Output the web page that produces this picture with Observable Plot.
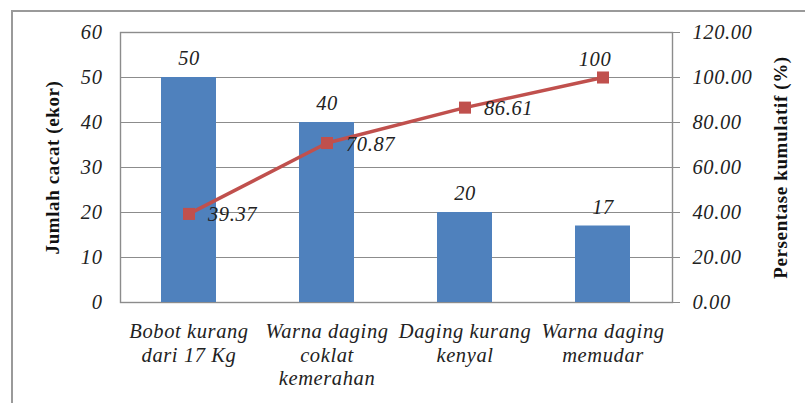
<!DOCTYPE html>
<html>
<head>
<meta charset="utf-8">
<script src="https://cdn.jsdelivr.net/npm/d3@7"></script>
<script src="https://cdn.jsdelivr.net/npm/@observablehq/plot@0.6"></script>
<style>
  html, body { margin: 0; padding: 0; background: #fff; }
  #wrap { position: relative; width: 805px; height: 403px; overflow: hidden; }
  #edge { position: absolute; left: 11px; top: 10px; width: 820px; height: 420px;
          border-left: 2px solid #9a9a9a; border-top: 2px solid #9a9a9a; }
  #chart { position: absolute; left: 0; top: 0; }
</style>
</head>
<body>
<div id="wrap"><div id="edge"></div><div id="chart"></div></div>
<script>
// Defect categories (x), defect counts (left axis) and cumulative percentage (right axis)
const categories = [
  "Bobot kurang\ndari 17 Kg",
  "Warna daging\ncoklat\nkemerahan",
  "Daging kurang\nkenyal",
  "Warna daging\nmemudar"
];
const counts = [50, 40, 20, 17];
const cumulative = [39.37, 70.87, 86.61, 100];
const cumulativeLabels = ["39.37", "70.87", "86.61", "100"];
const leftTicks = [0, 10, 20, 30, 40, 50, 60];
const rightTicks = [0, 20, 40, 60, 80, 100, 120];
const leftTitle = "Jumlah cacat (ekor)";
const rightTitle = "Persentase kumulatif (%)";

// right axis is twice the left axis (0–120 vs 0–60)
const ratio = 120 / 60;

const rows = categories.map((c, i) => ({
  cat: c, count: counts[i], pct: cumulative[i], pctLabel: cumulativeLabels[i], i
}));

const blue = "#4f81bd";
const red = "#c0504d";
const grid = "#8c8c8c";

const chart = Plot.plot({
  width: 805,
  height: 403,
  marginLeft: 120,
  marginRight: 133,
  marginTop: 32,
  marginBottom: 101,
  style: { fontFamily: "'Liberation Serif', 'Times New Roman', serif", fontSize: "20.5px", fontStyle: "italic", letterSpacing: "0.6px", color: "#222", background: "transparent" },
  x: { domain: categories, paddingInner: 0.6, paddingOuter: 0.3, label: null },
  y: { domain: [0, 60], label: null },
  marks: [
    Plot.gridY(leftTicks, { stroke: grid, strokeOpacity: 1, strokeWidth: 1.2 }),
    Plot.frame({ stroke: grid, strokeWidth: 1.4 }),
    Plot.barY(rows, { x: "cat", y: "count", fill: blue }),
    Plot.text(rows, { x: "cat", y: "count", text: d => String(d.count), dy: -19, fill: "#222" }),
    Plot.line(rows, { x: "cat", y: d => d.pct / ratio, stroke: red, strokeWidth: 3.5 }),
    Plot.dot(rows, { x: "cat", y: d => d.pct / ratio, symbol: "square", r: 6.8, fill: red, stroke: "none" }),
    Plot.text(rows.filter(d => d.i < 3), { x: "cat", y: d => d.pct / ratio, text: "pctLabel", textAnchor: "start", dx: 19, dy: 1, fill: "#222" }),
    Plot.text(rows.filter(d => d.i === 3), { x: "cat", y: d => d.pct / ratio, text: "pctLabel", dx: -8, dy: -18, fill: "#222" }),
    Plot.axisY(leftTicks, { anchor: "left", tickSize: 0, tickPadding: 18, tickFormat: d => String(d), fill: "#222" }),
    Plot.axisY(rightTicks.map(t => t / ratio), { anchor: "right", tickSize: 7, tickPadding: 13, stroke: grid, tickFormat: d => (d * ratio).toFixed(2), fill: "#222" }),
    Plot.axisX({ tickSize: 0, tickPadding: 19, lineHeight: 1.15, fill: "#222" }),
    // axis titles, rotated, centred on the plot area
    Plot.text([leftTitle], { frameAnchor: "middle", textAnchor: "middle", dx: -344, rotate: -90, fontWeight: "bold", fontStyle: "normal", fontSize: 19, letterSpacing: 0, fill: "#111" }),
    Plot.text([rightTitle], { frameAnchor: "middle", textAnchor: "middle", dx: 384, rotate: -90, fontWeight: "bold", fontStyle: "normal", fontSize: 19, fill: "#111" })
  ]
});
document.getElementById("chart").appendChild(chart);
</script>
</body>
</html>
